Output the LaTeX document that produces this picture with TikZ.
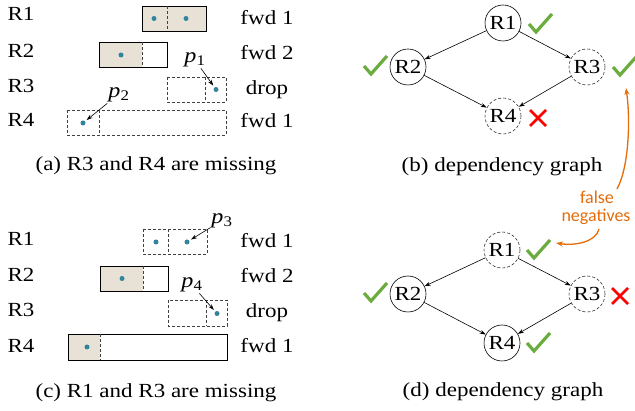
\documentclass[tikz,border=0pt]{standalone}
\usepackage{fontspec}
\setmainfont{Liberation Serif}[FakeStretch=1.15]
\newfontfamily\notefont{Carlito}
\usetikzlibrary{arrows.meta}

\definecolor{rulefill}{RGB}{232,226,214}
\definecolor{pktblue}{RGB}{49,132,155}
\definecolor{okgreen}{RGB}{106,172,62}
\definecolor{fnorange}{RGB}{228,108,10}

\tikzset{
  txt/.style={inner sep=0pt, font=\fontsize{20}{24}\selectfont},
  rowlbl/.style={txt, anchor=base},
  caption/.style={txt, anchor=base},
  solidbox/.style={draw=black, line width=0.8pt},
  dashbox/.style={draw=black!75, line width=0.8pt, dash pattern=on 3pt off 2pt},
  pkt/.style={circle, fill=pktblue, inner sep=0pt, minimum size=5pt},
  plbl/.style={inner sep=1pt, font=\fontsize{21}{24}\selectfont},
  ptr/.style={-{Stealth[length=6pt,width=4pt]}, line width=0.6pt, shorten >=2pt},
  gnode/.style={circle, draw=black, line width=0.6pt, minimum size=36pt, inner sep=0pt, font=\fontsize{20}{24}\selectfont},
  gmiss/.style={gnode, draw=black!80, dash pattern=on 3pt off 2pt},
  dep/.style={-{Stealth[length=6pt,width=4pt]}, line width=0.6pt},
  fnote/.style={anchor=base, inner sep=0pt, text=fnorange, font=\notefont\fontsize{18}{16}\selectfont},
  fnarrow/.style={-{Stealth[length=7pt,width=5pt]}, draw=fnorange, line width=1.3pt},
  okmark/.pic={\draw[okgreen, line width=3.2pt] (-11,0) -- (-4,8) -- (12,-10);},
  xmark/.pic={\draw[red, line width=2.6pt] (-8,-8) -- (8,8) (-8,8) -- (8,-8);}
}

\begin{document}
\begin{tikzpicture}[x=1pt,y=-1pt]
    \useasboundingbox (0,0) rectangle (635,411);

    % ---------- (a) rules, R3 and R4 missing ----------
    \foreach \n/\y in {1/21,2/58,3/93,4/127}
    \node[rowlbl] (aR\n) at (21,\y) {R\n};
    \foreach \n/\y/\act in {1/25/fwd 1,2/60/fwd 2,3/95/drop,4/128/fwd 1}
    \node[rowlbl] (aA\n) at (267,\y) {\act};

    % R1
    \fill[rulefill] (142,6) rectangle (206,31);
    \draw[solidbox] (142,6) rectangle (206,31);
    \draw[dashbox] (167,6) -- (167,31);
    \node[pkt] (a1x) at (154,18.5) {};
    \node[pkt] (a1y) at (186,18.5) {};
    % R2
    \fill[rulefill] (99,42.5) rectangle (142,67.5);
    \draw[solidbox] (99,42.5) rectangle (167,67.5);
    \draw[dashbox] (142,42.5) -- (142,67.5);
    \node[pkt] (a2x) at (121,55) {};
    % R3
    \draw[dashbox] (167,77) rectangle (226,102);
    \draw[dashbox] (205,77) -- (205,102);
    \node[pkt] (a3y) at (216,89.5) {};
    % R4
    \draw[dashbox] (67,110.5) rectangle (226,135.5);
    \draw[dashbox] (99,110.5) -- (99,135.5);
    \node[pkt] (a4x) at (83,123) {};

    % packets
    \node[plbl] (p1) at (195,60) {\textit{p}\textsubscript{1}};
    \node[plbl] (p2) at (119,95) {\textit{p}\textsubscript{2}};
    \draw[ptr] (p1) -- (a3y);
    \draw[ptr] (p2.south west) -- (a4x);

    \node[caption] (capa) at (156,171) {(a) R3 and R4 are missing};

    % ---------- (c) rules, R1 and R3 missing ----------
    \begin{scope}[shift={(1,223.5)}]
    \foreach \n/\y in {1/22.5,2/58.5,3/93.5,4/129.5}
    \node[rowlbl] (cR\n) at (20,\y) {R\n};
    \foreach \n/\y/\act in {1/24.5/fwd 1,2/59.5/fwd 2,3/94.5/drop,4/129.5/fwd 1}
    \node[rowlbl] (cA\n) at (266,\y) {\act};

    % R1
    \draw[dashbox] (142,5.5) rectangle (206,30.5);
    \draw[dashbox] (167,5.5) -- (167,30.5);
    \node[pkt] (c1x) at (155,18.5) {};
    \node[pkt] (c1y) at (186,18.5) {};
    % R2
    \fill[rulefill] (99,42.5) rectangle (142,67.5);
    \draw[solidbox] (99,42.5) rectangle (167,67.5);
    \draw[dashbox] (142,42.5) -- (142,67.5);
    \node[pkt] (c2x) at (121,55) {};
    % R3
    \draw[dashbox] (167,76.5) rectangle (226,102.5);
    \draw[dashbox] (205,76.5) -- (205,102.5);
    \node[pkt] (c3y) at (216,90) {};
    % R4
    \fill[rulefill] (67,110.5) rectangle (99,136.5);
    \draw[solidbox] (67,110.5) rectangle (226,136.5);
    \draw[dashbox] (99,110.5) -- (99,136.5);
    \node[pkt] (c4x) at (86,123.5) {};

    % packets
    \node[plbl] (p3) at (221,-3) {\textit{p}\textsubscript{3}};
    \node[plbl] (p4) at (191,61.5) {\textit{p}\textsubscript{4}};
    \draw[ptr] (p3) -- (c1y);
    \draw[ptr] (p4) -- (c3y);
    \end{scope}

    \node[caption] (capc) at (156,398) {(c) R1 and R3 are missing};

    % ---------- (b) dependency graph ----------
    \node[gnode] (b1) at (503,23) {R1};
    \node[gnode] (b2) at (408,67) {R2};
    \node[gmiss] (b3) at (587,67) {R3};
    \node[gmiss] (b4) at (503,116) {R4};
    \draw[dep] (b1) -- (b2);
    \draw[dep] (b1) -- (b3);
    \draw[dep] (b2) -- (b4);
    \draw[dep] (b3) -- (b4);
    \pic (b1ok) at (540,24) {okmark};
    \pic (b2ok) at (375,66) {okmark};
    \pic (b3ok) at (624,67) {okmark};
    \pic (b4no) at (538,118) {xmark};
    \node[caption] (capb) at (502,172) {(b) dependency graph};

    % ---------- (d) dependency graph ----------
    \node[gmiss] (d1) at (502,250) {R1};
    \node[gnode] (d2) at (408,294) {R2};
    \node[gmiss] (d3) at (587,294) {R3};
    \node[gnode] (d4) at (502,343) {R4};
    \draw[dep] (d1) -- (d2);
    \draw[dep] (d1) -- (d3);
    \draw[dep] (d2) -- (d4);
    \draw[dep] (d3) -- (d4);
    \pic (d1ok) at (538,250) {okmark};
    \pic (d2ok) at (375,293) {okmark};
    \pic (d3no) at (620,296) {xmark};
    \pic (d4ok) at (538,343) {okmark};
    \node[caption] (capd) at (503,397) {(d) dependency graph};

    % ---------- false negatives ----------
    \node[fnote] (fneg1) at (597,204) {false};
    \node[fnote] (fneg2) at (596,222) {negatives};
    \coordinate (fnup) at (617,189);
    \coordinate (fndown) at (599,229);
    \coordinate (b3tip) at (626,88);
    \coordinate (d1tip) at (556,243);
    \draw[fnarrow] (fnup) .. controls (630,165) and (630,115) .. (b3tip);
    \draw[fnarrow] (fndown) .. controls (596,242) and (575,246) .. (d1tip);
\end{tikzpicture}
\end{document}
